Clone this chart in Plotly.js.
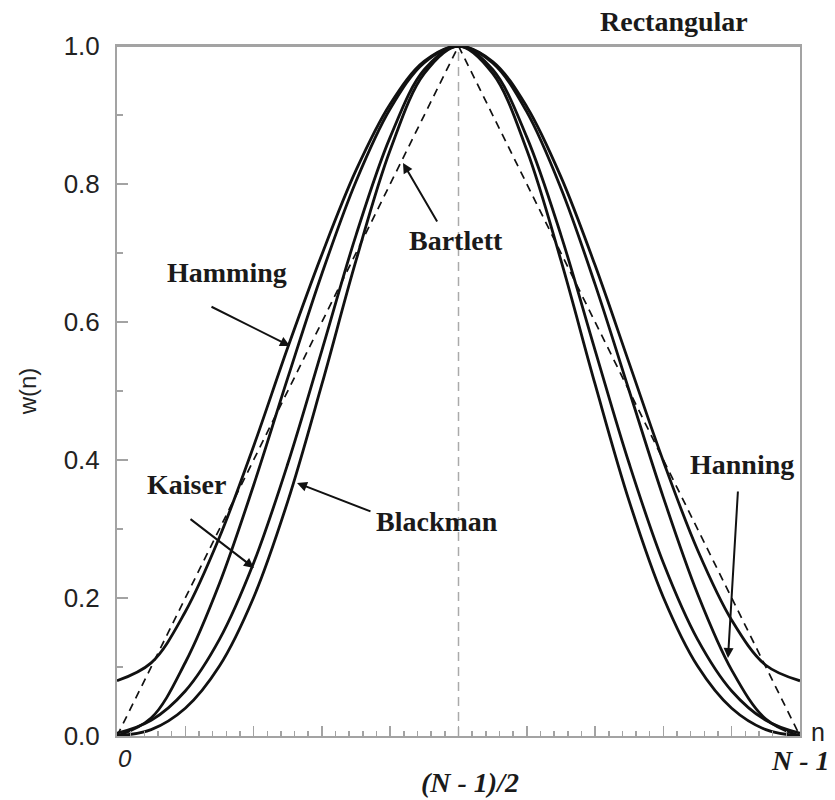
<!DOCTYPE html>
<html>
<head>
<meta charset="utf-8">
<script src="https://cdn.plot.ly/plotly-3.0.1.min.js"></script>
<style>html,body{margin:0;padding:0;background:#fff;}#chart{width:835px;height:800px;}</style>
</head>
<body>
<div id="chart"></div>
<script>
// sample positions n (0 .. N-1 mapped to 0 .. 10)
const n = [0,0.5,1,1.5,2,2.5,3,3.5,4,4.5,5,5.5,6,6.5,7,7.5,8,8.5,9,9.5,10];
const hamming  = [0.08,0.106,0.180,0.288,0.420,0.563,0.698,0.820,0.916,0.978,1.0,0.9775,0.9121,0.8104,0.6821,0.54,0.3979,0.2696,0.1679,0.1025,0.08];
const hanning  = [0,0.026,0.1065,0.221,0.3635,0.519,0.670,0.804,0.909,0.976,1.0,0.9755,0.9045,0.7939,0.6545,0.5,0.3455,0.2061,0.0955,0.0245,0];
const kaiser   = [0.004,0.0227,0.0652,0.140,0.2507,0.3945,0.559,0.726,0.868,0.966,1.0,0.966,0.868,0.726,0.559,0.3945,0.2507,0.140,0.0652,0.0227,0.004];
const blackman = [0,0.0092,0.0402,0.1014,0.2008,0.34,0.5098,0.6892,0.8492,0.9602,1.0,0.9602,0.8492,0.6892,0.5098,0.34,0.2008,0.1014,0.0402,0.0092,0];
const bartlettN = [0,5,10];
const bartlett  = [0,1,0];
const rectN = [0,10];
const rect  = [1,1];
const yTicks = [0,0.2,0.4,0.6,0.8,1.0];

const frame = '#a3a3a3';
const solid = (x,y,name)=>({x:x,y:y,name:name,type:'scatter',mode:'lines',
  line:{color:'#111',width:2.8,shape:'spline',smoothing:1},hoverinfo:'skip'});

const traces = [
  {x:rectN,y:rect,name:'Rectangular',type:'scatter',mode:'lines',line:{color:frame,width:2},cliponaxis:false,hoverinfo:'skip'},
  solid(n,hamming,'Hamming'),
  solid(n,hanning,'Hanning'),
  solid(n,kaiser,'Kaiser'),
  solid(n,blackman,'Blackman'),
  {x:bartlettN,y:bartlett,name:'Bartlett',type:'scatter',mode:'lines',line:{color:'#111',width:1.7,dash:'8px,6px'},hoverinfo:'skip'}
];

const serif = 'Liberation Serif, Times New Roman, serif';
const sans = 'Liberation Sans, Arial, sans-serif';
const lblFont = {family:serif,size:28,color:'#1a1a1a'};
const px = v=>(v-117)/683, py = v=>(736-v)/690;
const lbl = (text,x,y)=>({text:'<b>'+text+'</b>',x:px(x),y:py(y),xref:'paper',yref:'paper',showarrow:false,font:lblFont,xanchor:'center',yanchor:'middle'});
const arr = (x,y,ax,ay)=>({text:'',x:px(x),y:py(y),xref:'paper',yref:'paper',ax:ax,ay:ay,showarrow:true,arrowhead:2,arrowsize:1,arrowwidth:2,arrowcolor:'#111'});
const txt = (text,x,y,font)=>({text:text,x:px(x),y:py(y),xref:'paper',yref:'paper',showarrow:false,font:font,xanchor:'center',yanchor:'middle'});

const annotations = [
  lbl('Rectangular',674,22),
  lbl('Hamming',227,272),
  lbl('Bartlett',456,240),
  lbl('Kaiser',186,484),
  lbl('Blackman',437,521),
  lbl('Hanning',742,464),
  arr(290,346,-80,-40),
  arr(254,568,-65,-50),
  arr(297,483,75,29),
  arr(403,163,35,60),
  arr(728,658,10,-168),
  txt('<i>0</i>',125,758,{family:sans,size:24,color:'#222'}),
  txt('<b><i>(N - 1)/2</i></b>',470,783,{family:serif,size:28,color:'#1a1a1a'}),
  txt('<b><i>N - 1</i></b>',800,760,{family:serif,size:28,color:'#1a1a1a'}),
  txt('n',818,732,{family:sans,size:25,color:'#222'})
];

const layout = {
  width:835,height:800,
  margin:{l:117,r:35,t:46,b:64},
  paper_bgcolor:'#fff',plot_bgcolor:'#fff',
  showlegend:false,
  xaxis:{range:[0,10],showline:true,linecolor:frame,linewidth:2,mirror:true,
    ticks:'inside',ticklen:10,tickwidth:1.5,tickcolor:frame,tick0:0,dtick:1,
    showticklabels:false,showgrid:false,zeroline:false,
    minor:{ticks:'inside',ticklen:5,tickwidth:1.5,tickcolor:frame,dtick:0.2,showgrid:false}},
  yaxis:{range:[0,1],showline:true,linecolor:frame,linewidth:2,mirror:true,
    ticks:'inside',ticklen:11,tickwidth:1.5,tickcolor:frame,
    tickmode:'array',tickvals:yTicks,tickformat:'.1f',
    ticklabelstandoff:10,
    tickfont:{family:sans,size:26,color:'#222'},
    showgrid:false,zeroline:false,
    minor:{ticks:'inside',ticklen:6,tickwidth:1.5,tickcolor:frame,dtick:0.1,showgrid:false},
    title:{text:'w(n)',standoff:20,font:{family:sans,size:24,color:'#222'}}},
  shapes:[{type:'line',xref:'x',yref:'y',x0:5,x1:5,y0:0,y1:1,line:{color:'#aaa',width:1.5,dash:'9px,6px'},layer:'below'}],
  annotations:annotations
};

Plotly.newPlot('chart',traces,layout,{staticPlot:true});
</script>
</body>
</html>
